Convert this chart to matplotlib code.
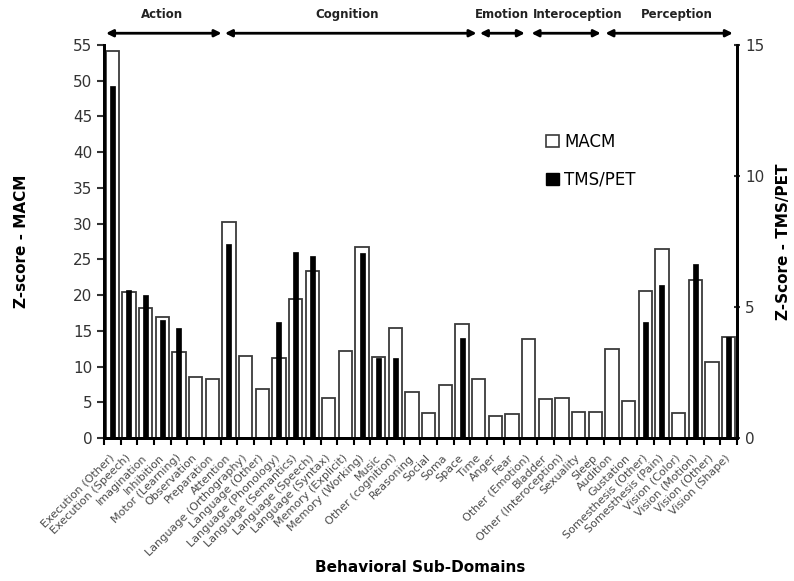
import numpy as np
import matplotlib
matplotlib.use("Agg")
import matplotlib.pyplot as plt
import matplotlib.transforms as mtransforms
from matplotlib.patches import Patch

categories = [
    "Execution (Other)", "Execution (Speech)", "Imagination", "Inhibition",
    "Motor (Learning)", "Observation", "Preparation", "Attention",
    "Language (Orthography)", "Language (Other)", "Language (Phonology)",
    "Language (Semantics)", "Language (Speech)", "Language (Syntax)",
    "Memory (Explicit)", "Memory (Working)", "Music", "Other (cognition)",
    "Reasoning", "Social", "Soma", "Space", "Time", "Anger", "Fear",
    "Other (Emotion)", "Bladder", "Other (Interoception)", "Sexuality", "Sleep",
    "Audition", "Gustation", "Somesthesis (Other)", "Somesthesis (Pain)",
    "Vision (Color)", "Vision (Motion)", "Vision (Other)", "Vision (Shape)",
]

# MACM z-scores (left axis)
macm = [54.2, 20.4, 18.2, 17.0, 12.1, 8.6, 8.3, 30.2, 11.5, 6.9, 11.2, 19.5,
        23.4, 5.6, 12.2, 26.8, 11.4, 15.4, 6.4, 3.5, 7.4, 16.0, 8.2, 3.1, 3.4,
        13.9, 5.5, 5.6, 3.6, 3.6, 12.5, 5.2, 20.6, 26.5, 3.5, 22.1, 10.6, 14.2]

# TMS/PET z-scores (right axis), None = no bar
tms_pet = [13.45, 5.65, 5.45, 4.5, 4.2, None, None, 7.4, None, None, 4.43, 7.1,
           6.93, None, None, 7.05, 3.05, 3.04, None, None, None, 3.82, None,
           None, None, None, None, None, None, None, None, None, 4.42, 5.84,
           None, 6.64, None, 3.85]

# domain brackets: name, arrow start/end and label centre (category units from left edge)
domains = ["Action", "Cognition", "Emotion", "Interoception", "Perception"]
dom_start = [0.12, 7.26, 22.57, 25.67, 30.11]
dom_end = [7.06, 22.37, 25.27, 29.83, 37.76]
dom_text = [3.46, 14.57, 23.87, 28.47, 34.4]

fig = plt.figure(figsize=(7.94, 5.81), dpi=100)
ax = fig.add_axes([0.131, 0.246, 0.797, 0.6765])
ax2 = ax.twinx()

x = np.arange(len(categories))
ax.bar(x, macm, width=0.8, color="white", edgecolor="#3a3a3a", linewidth=1.3, zorder=2)

idx = [i for i, v in enumerate(tms_pet) if v is not None]
ax2.bar([x[i] for i in idx], [tms_pet[i] for i in idx], width=0.3,
        color="black", edgecolor="black", linewidth=0.5, zorder=3)

ax.set_xlim(-0.5, len(categories) - 0.5)
ax.set_ylim(0, 55)
ax2.set_ylim(0, 15)
ax.set_yticks(range(0, 56, 5))
ax2.set_yticks([0, 5, 10, 15])

ax.set_xticks(x)
ax.set_xticklabels(categories, rotation=45, ha="right", va="center",
                   rotation_mode="anchor", fontsize=8.0, color="#4a4a4a")
shift = mtransforms.ScaledTranslation(-7 / 100, 0, fig.dpi_scale_trans)
for lbl in ax.get_xticklabels():
    lbl.set_transform(lbl.get_transform() + shift)
ax.set_xticks(np.arange(len(categories) + 1) - 0.5, minor=True)
ax.tick_params(axis="x", which="major", length=0, pad=13)
ax.tick_params(axis="x", which="minor", length=5, width=1.5, direction="out")
ax.tick_params(axis="y", labelsize=11, length=5, width=1.5, direction="out", colors="#333333")
ax2.tick_params(axis="y", labelsize=11, length=5, width=1.5, direction="inout", colors="#333333")

for a in (ax, ax2):
    a.spines["top"].set_visible(False)
    for s in ("left", "right", "bottom"):
        a.spines[s].set_linewidth(2)

ax.set_ylabel("Z-score - MACM", fontsize=11, fontweight="bold")
ax.yaxis.set_label_coords(-0.118, 0.5)
ax2.set_ylabel("Z-Score - TMS/PET", fontsize=11, fontweight="bold", labelpad=8)
ax.set_xlabel("Behavioral Sub-Domains", fontsize=11, fontweight="bold")
ax.xaxis.set_label_coords(0.5, -0.31)

# domain arrows above the plot
trans = ax.get_xaxis_transform()
for name, s, e, t in zip(domains, dom_start, dom_end, dom_text):
    ax.annotate("", xy=(s - 0.5, 1.03), xytext=(e - 0.5, 1.03), xycoords=trans,
                textcoords=trans, annotation_clip=False,
                arrowprops=dict(arrowstyle="<|-|>", color="black", lw=2,
                                mutation_scale=10, shrinkA=0, shrinkB=0))
    ax.text(t - 0.5, 1.06, name, transform=trans, ha="center",
            va="bottom", fontsize=8.5, fontweight="bold", color="#222222")

handles = [Patch(facecolor="white", edgecolor="#3a3a3a", linewidth=1.2),
           Patch(facecolor="black", edgecolor="black")]
ax2.legend(handles, ["MACM", "TMS/PET"], loc="upper left",
           bbox_to_anchor=(0.675, 0.815), frameon=False, fontsize=12,
           handlelength=0.8, handleheight=0.8, handletextpad=0.3, labelspacing=1.2)

fig.savefig("out.png", dpi=100)
